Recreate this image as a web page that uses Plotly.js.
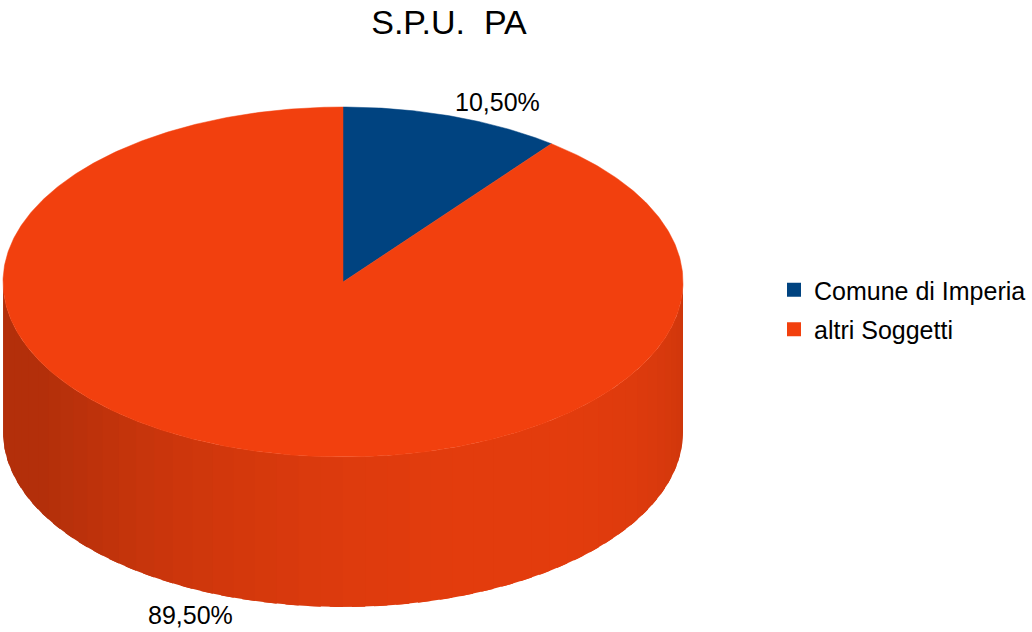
<!DOCTYPE html>
<html>
<head>
<meta charset="utf-8">
<script src="https://cdn.plot.ly/plotly-3.0.1.min.js"></script>
<style>html,body{margin:0;padding:0;background:#fff;}#chart{width:1032px;height:632px;}</style>
</head>
<body>
<div id="chart"></div>
<script>
// ---- data ----
const categories = ['Comune di Imperia', 'altri Soggetti'];
const values = [10.5, 89.5];
const chartTitle = 'S.P.U.\u00A0\u00A0PA';

// ---- style / geometry ----
const topColors = [[0, 67, 128], [242, 64, 14]];
const FONT = 'Liberation Sans, Arial, sans-serif';
const cx = 343, cy = 282, rx = 340, ry = 175, depth = 150;
const labelPos = [[497, 102], [190, 615]];

const total = values.reduce((a, b) => a + b, 0);
const bounds = [];
let acc = 0;
values.forEach(v => { const s = acc / total * 360; acc += v; bounds.push([s, acc / total * 360]); });

function pt(t, dy) {
  const r = t * Math.PI / 180;
  return [cx + rx * Math.sin(r), cy - ry * Math.cos(r) + (dy || 0)];
}
function rgb(c, k) {
  return 'rgb(' + c.map(v => Math.round(Math.min(255, v * k))).join(',') + ')';
}
function sliceOf(t) {
  for (let i = 0; i < bounds.length; i++) if (t >= bounds[i][0] && t < bounds[i][1]) return i;
  return bounds.length - 1;
}

const traces = [];
// side wall strips (visible front half: t from 90 to 270), each overlapping the next
const N = 48;
const step = 180 / N;
for (let s = 0; s < N; s++) {
  const t0 = 90 + step * s;
  const t1 = Math.min(270, t0 + step * 1.6);
  const xs = [], ys = [];
  const sub = 6;
  for (let j = 0; j <= sub; j++) { const p = pt(t0 + (t1 - t0) * j / sub, 0); xs.push(p[0]); ys.push(p[1]); }
  for (let j = sub; j >= 0; j--) { const p = pt(t0 + (t1 - t0) * j / sub, depth); xs.push(p[0]); ys.push(p[1]); }
  const tm = t0 + step / 2;
  const phi = (180 - tm) * Math.PI / 180;
  const k = 0.74 + 0.2 * Math.max(0, Math.cos(phi - Math.PI / 6));
  const col = rgb(topColors[sliceOf(tm)], k);
  traces.push({type: 'scatter', mode: 'lines', x: xs, y: ys, fill: 'toself', fillcolor: col,
    line: {width: 0}, hoverinfo: 'skip', showlegend: false});
}
// top face slices
bounds.forEach((b, i) => {
  const xs = [cx], ys = [cy];
  for (let t = b[0]; t < b[1]; t += 0.5) { const p = pt(t); xs.push(p[0]); ys.push(p[1]); }
  const pe = pt(b[1]); xs.push(pe[0]); ys.push(pe[1]);
  xs.push(cx); ys.push(cy);
  const col = rgb(topColors[i], 1);
  traces.push({type: 'scatter', mode: 'lines', x: xs, y: ys, fill: 'toself', fillcolor: col,
    line: {color: col, width: 0.5}, hoverinfo: 'skip', showlegend: false});
});
// legend entries
categories.forEach((c, i) => {
  traces.push({type: 'scatter', mode: 'markers', x: [null], y: [null], name: c,
    marker: {symbol: 'square', size: 14, color: rgb(topColors[i], 1)}, legendgroup: 'g' + i});
});

const annotations = values.map((v, i) => ({
  x: labelPos[i][0], y: labelPos[i][1], xref: 'x', yref: 'y', showarrow: false,
  text: v.toFixed(2).replace('.', ',') + '%', font: {family: FONT, size: 25, color: '#000'},
  xanchor: 'center', yanchor: 'middle'
}));

const layout = {
  width: 1032, height: 632, margin: {l: 0, r: 0, t: 0, b: 0},
  paper_bgcolor: '#fff', plot_bgcolor: '#fff',
  title: {text: chartTitle, x: 449 / 1032, xanchor: 'center', y: 1 - 22 / 632, yanchor: 'middle',
    font: {family: FONT, size: 34, color: '#000'}},
  xaxis: {range: [0, 1032], visible: false, fixedrange: true},
  yaxis: {range: [632, 0], visible: false, fixedrange: true},
  showlegend: true,
  legend: {x: 0.750, y: 1 - 267 / 632, xanchor: 'left', yanchor: 'top', font: {family: FONT, size: 25, color: '#000'},
    itemwidth: 30, itemsizing: 'trace', traceorder: 'grouped', tracegroupgap: 4, bgcolor: 'rgba(0,0,0,0)'},
  annotations: annotations
};

Plotly.newPlot('chart', traces, layout, {staticPlot: true, displayModeBar: false});
</script>
</body>
</html>
